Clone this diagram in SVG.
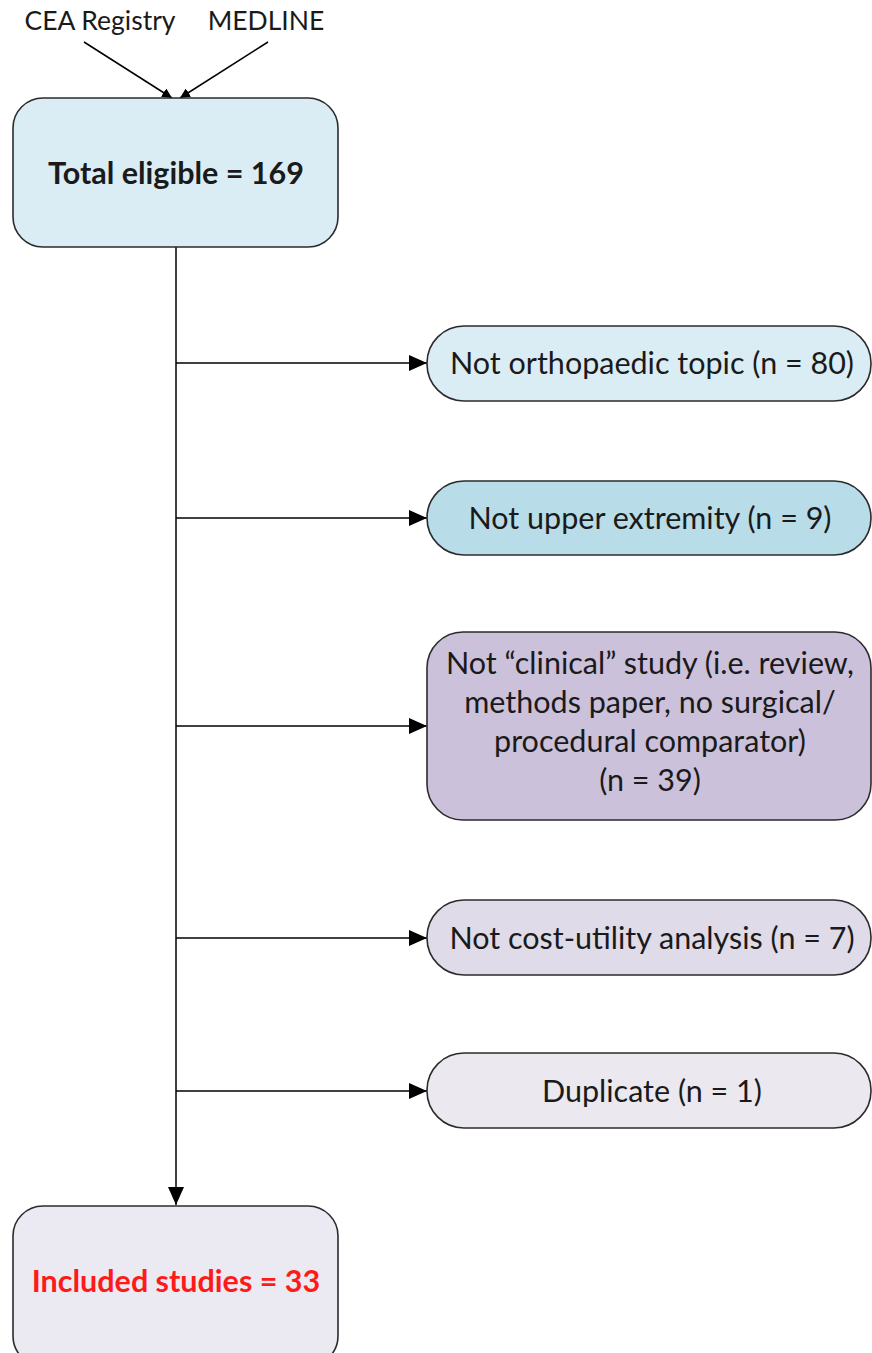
<svg xmlns="http://www.w3.org/2000/svg" width="872" height="1353" viewBox="0 0 872 1353">
<defs>
<style>
.box{stroke:#2b2b2b;stroke-width:1.6}
.t{font-family:Lato,"Open Sans","Liberation Sans",sans-serif;font-size:30.5px;fill:#1a1a1a;text-anchor:middle}
.s{font-size:26.5px}
.b{font-weight:bold}
.c{stroke:#000;stroke-width:1.5;fill:none}
</style>
<marker id="ah" viewBox="0 0 10 10" refX="10" refY="5" markerWidth="10" markerHeight="10" markerUnits="userSpaceOnUse" orient="auto"><path d="M0,0 L10,5 L0,10 z" fill="#000"/></marker>
<marker id="ab" viewBox="0 0 18 16" refX="18" refY="8" markerWidth="18" markerHeight="16" markerUnits="userSpaceOnUse" orient="auto"><path d="M0,0 L18,8 L0,16 z" fill="#000"/></marker>
</defs>
<rect width="872" height="1353" fill="#fff"/>
<g id="src-cea"><text class="t s" x="100" y="30">CEA Registry</text></g>
<g id="src-medline"><text class="t s" x="266" y="30">MEDLINE</text></g>
<g id="connectors">
<line class="c" x1="84" y1="42" x2="172" y2="98" marker-end="url(#ah)"/>
<line class="c" x1="268" y1="42" x2="180" y2="98" marker-end="url(#ah)"/>
<line class="c" x1="176" y1="247" x2="176" y2="1205" marker-end="url(#ab)"/>
<line class="c" x1="176" y1="363" x2="427" y2="363" marker-end="url(#ab)"/>
<line class="c" x1="176" y1="518" x2="427" y2="518" marker-end="url(#ab)"/>
<line class="c" x1="176" y1="726" x2="427" y2="726" marker-end="url(#ab)"/>
<line class="c" x1="176" y1="938" x2="427" y2="938" marker-end="url(#ab)"/>
<line class="c" x1="176" y1="1091" x2="427" y2="1091" marker-end="url(#ab)"/>
</g>
<g id="total">
<rect class="box" x="13" y="98" width="325" height="149" rx="30" fill="#dbedf4"/>
<text class="t b" x="176" y="184">Total eligible = 169</text>
</g>
<g id="ex-ortho">
<rect class="box" x="427" y="326" width="444" height="75" rx="37" fill="#dbedf4"/>
<text class="t" x="652" y="374">Not orthopaedic topic (n = 80)</text>
</g>
<g id="ex-upper">
<rect class="box" x="427" y="481" width="444" height="74" rx="37" fill="#b8dce8"/>
<text class="t" x="650" y="529">Not upper extremity (n = 9)</text>
</g>
<g id="ex-clinical">
<rect class="box" x="427" y="632" width="444" height="188" rx="36" fill="#ccc1db"/>
<text class="t" x="650" y="674">Not “clinical” study (i.e. review,</text>
<text class="t" x="650" y="713">methods paper, no surgical/</text>
<text class="t" x="650" y="752">procedural comparator)</text>
<text class="t" x="650" y="791">(n = 39)</text>
</g>
<g id="ex-cu">
<rect class="box" x="427" y="900" width="444" height="75" rx="37" fill="#e0dbe8"/>
<text class="t" x="652" y="949">Not cost-utility analysis (n = 7)</text>
</g>
<g id="ex-dup">
<rect class="box" x="427" y="1053" width="444" height="75" rx="37" fill="#ebe8f0"/>
<text class="t" x="652" y="1102">Duplicate (n = 1)</text>
</g>
<g id="included">
<rect class="box" x="13" y="1206" width="325" height="160" rx="30" fill="#ebe9f1"/>
<text class="t b" x="176" y="1292" style="fill:#ff1a1a">Included studies = 33</text>
</g>
</svg>
